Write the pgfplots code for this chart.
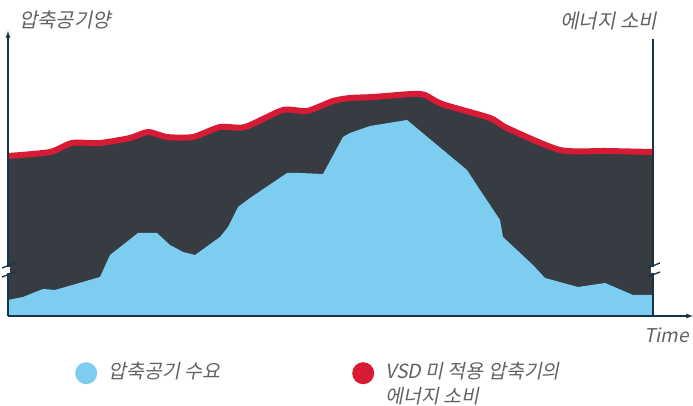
\documentclass[border=0pt]{standalone}
\usepackage{pgfplots}
\pgfplotsset{compat=1.18}
\usepackage{fontspec}
\newfontfamily\kr[FakeSlant=0.2]{Noto Sans CJK KR}
\definecolor{darkfill}{HTML}{373B42}
\definecolor{bluefill}{HTML}{7DCDF1}
\definecolor{redline}{HTML}{D81B34}
\definecolor{axiscol}{HTML}{1A3347}
\definecolor{txt}{HTML}{626262}
\begin{document}
\begin{tikzpicture}[x=1pt,y=1pt]
\useasboundingbox (0,0) rectangle (693,406);
\begin{axis}[
  at={(8pt,90pt)}, anchor=south west,
  scale only axis, width=645pt, height=283pt,
  xmin=8, xmax=653, ymin=0, ymax=283,
  hide axis, clip=false,
  legend columns=2,
  legend style={at={(axis cs:72,-43)}, anchor=north west, draw=none, fill=none,
    font=\kr\fontsize{19.5}{25}\selectfont\color{txt},
    /tikz/every even column/.append style={column sep=131pt},
    nodes={align=left, anchor=north west, inner sep=1pt}},
  legend cell align=left,
]
\addplot[fill=darkfill, draw=none, smooth, tension=0.4, forget plot] coordinates {
(8,160)(50,164)(72,173)(100,173)(130,178)(148,184)(167,179)(193,179)(220,189)(245,189)(283,206)(307,205)(333,215)(350,218)(373,219)(412,222)(425,221)(442,212)(490,198)(507,188)(560,166)(607,165)(653,164)
} \closedcycle;
\addplot[fill=bluefill, draw=none, forget plot] coordinates {
(8,16)(23,19)(43,27)(55,26)(100,39)(110,61)(138,83)(157,83)(170,71)(183,64)(195,61)(220,79)(228,89)(238,109)(250,118)(287,143)(300,143)(323,142)(343,179)(350,183)(370,190)(407,196)(467,146)(480,126)(500,96)(503,79)(533,51)(545,38)(578,29)(605,33)(633,21)(653,21)
} \closedcycle;
\addplot[redline, line width=6pt, smooth, tension=0.4, forget plot] coordinates {
(8,160)(50,164)(72,173)(100,173)(130,178)(148,184)(167,179)(193,179)(220,189)(245,189)(283,206)(307,205)(333,215)(350,218)(373,219)(412,222)(425,221)(442,212)(490,198)(507,188)(560,166)(607,165)(653,164)
};
\addlegendimage{legend image code/.code={\fill[bluefill, draw=none] (0pt,-12pt) circle (11pt);\path[draw=none, fill=none] (-11pt,-12pt) -- (21pt,-12pt);}}
\addlegendentry{압축공기 수요}
\addlegendimage{legend image code/.code={\fill[redline, draw=none] (0pt,-12pt) circle (11pt);\path[draw=none, fill=none] (-11pt,-12pt) -- (21pt,-12pt);}}
\addlegendentry{VSD 미 적용 압축기의\\에너지 소비}
% axes
\draw[axiscol, line width=1.3pt, -latex] (axis cs:8,0) -- (axis cs:8,285);
\draw[axiscol, line width=1.3pt, -latex] (axis cs:8,0) -- (axis cs:693,0);
\draw[axiscol, line width=1.3pt] (axis cs:653,0) -- (axis cs:653,277);
% break marks
\fill[white] (axis cs:6,43) rectangle (axis cs:10,49);
\fill[white] (axis cs:651,43) rectangle (axis cs:655,49);
\draw[axiscol, line width=1.3pt] (axis cs:2,48) -- (axis cs:15,53) (axis cs:2,39) -- (axis cs:15,44);
\draw[axiscol, line width=1.3pt] (axis cs:647,48) -- (axis cs:660,53) (axis cs:647,39) -- (axis cs:660,44);
% labels
\node[anchor=west, inner sep=0pt, font=\kr\fontsize{20}{24}\selectfont, text=txt] at (axis cs:19,296) {압축공기양};
\node[anchor=east, inner sep=0pt, font=\kr\fontsize{20}{24}\selectfont, text=txt] at (axis cs:657,295) {에너지 소비};
\node[anchor=east, inner sep=0pt, font=\kr\fontsize{19}{24}\selectfont, text=txt] at (axis cs:689,-19) {Time};
\end{axis}
\end{tikzpicture}
\end{document}
